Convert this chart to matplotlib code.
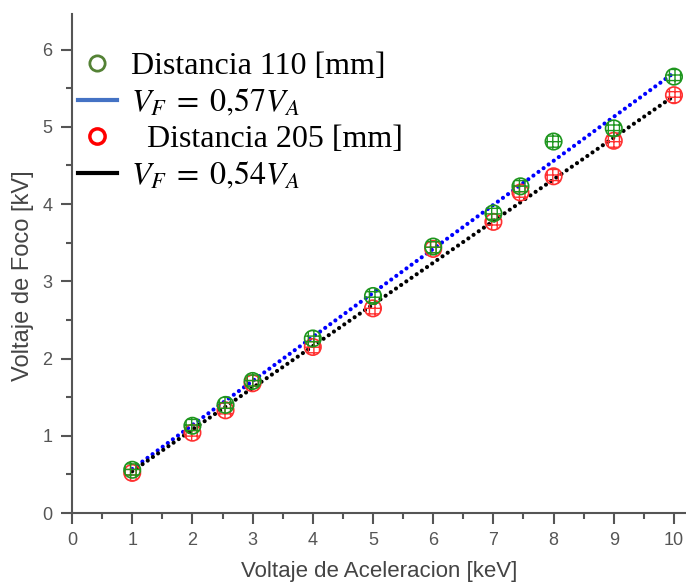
import numpy as np
import matplotlib
matplotlib.use('Agg')
from matplotlib import pyplot as plt
from matplotlib.lines import Line2D

# data
va = [1, 2, 2.55, 3, 4, 5, 6, 7, 7.45, 8, 9, 10]
vf_110 = [0.56, 1.13, 1.40, 1.71, 2.26, 2.81, 3.45, 3.88, 4.23, 4.81, 4.98, 5.65]
vf_205 = [0.52, 1.04, 1.33, 1.68, 2.15, 2.65, 3.42, 3.77, 4.15, 4.36, 4.82, 5.41]
slope_110 = 0.57
slope_205 = 0.54

fig = plt.figure(figsize=(6.86, 5.87), dpi=100)
ax = fig.add_axes([0.105, 0.126, 0.895, 0.85])

xf = np.array([va[0], va[-1]])
dots = (0, (0.01, 1.5))
ax.plot(xf, slope_110*xf, color='blue', lw=3.0, ls=dots,
        dash_capstyle='round', zorder=2)
ax.plot(xf, slope_205*xf, color='black', lw=3.0, ls=dots,
        dash_capstyle='round', zorder=2)

plt.rcParams['hatch.linewidth'] = 1.0
ax.scatter(va, vf_205, s=140, facecolors='none', edgecolors='#ff3030',
           hatch='+++', linewidths=1.2, zorder=3)
ax.scatter(va, vf_110, s=140, facecolors='none', edgecolors='#1e961e',
           hatch='+++', linewidths=1.2, zorder=4)

ax.set_xlim(0, 10.2)
ax.set_ylim(0, 6.46)
ax.set_xticks(range(0, 11))
ax.set_xticks(np.arange(0.5, 10.5, 1), minor=True)
ax.set_yticks(range(0, 7))
ax.set_yticks(np.arange(0.5, 6.5, 1), minor=True)

gray = '#555555'
for s in ['top', 'right']:
    ax.spines[s].set_visible(False)
for s in ['left', 'bottom']:
    ax.spines[s].set_color(gray)
    ax.spines[s].set_linewidth(1.5)
ax.tick_params(which='major', direction='out', length=8, width=1.5,
               color=gray, labelcolor='#555555', labelsize=13, pad=6)
ax.tick_params(which='minor', direction='out', length=4, width=1.5, color=gray)
for lab in ax.get_xticklabels() + ax.get_yticklabels():
    lab.set_family(['Liberation Sans Narrow', 'Liberation Sans'])

ax.set_xlabel('Voltaje de Aceleracion [keV]', fontsize=16, color='#444444',
              family='Liberation Sans', labelpad=8)
ax.set_ylabel('Voltaje de Foco [kV]', fontsize=17, color='#444444',
              family='Liberation Sans')
ax.yaxis.set_label_coords(-0.062, 0.475)

plt.rcParams['mathtext.fontset'] = 'stix'
handles = [
    Line2D([], [], ls='none', marker='o', mfc='none', mec='#548235', mew=2, ms=11),
    Line2D([], [], color='#4472c4', lw=3),
    Line2D([], [], ls='none', marker='o', mfc='none', mec='#ff0000', mew=2.5, ms=11),
    Line2D([], [], color='black', lw=3),
]
labels = ['Distancia 110 [mm]', r'$V_F\;=\;0{,}57V_A$',
          '  Distancia 205 [mm]', r'$V_F\;=\;0{,}54V_A$']
leg = ax.legend(handles, labels, loc='upper left', bbox_to_anchor=(0.01, 0.925),
                frameon=False, handlelength=1.2, handletextpad=0.45,
                labelspacing=0.2, borderaxespad=0.0, borderpad=0.0,
                prop={'family': 'Liberation Serif', 'size': 23})

fig.savefig('out.png', dpi=100)
